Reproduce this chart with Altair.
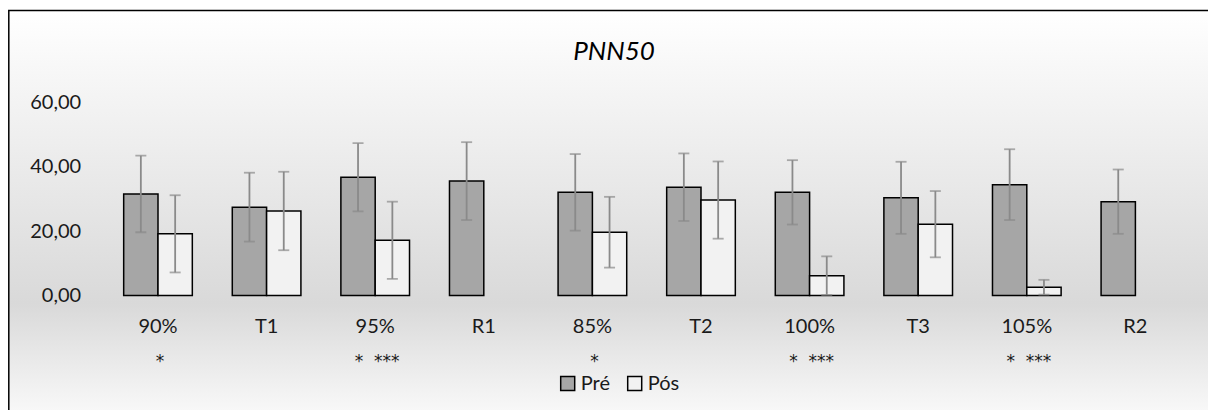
import altair as alt
import pandas as pd

# ---- data ----
categories = ["90%", "T1", "95%", "R1", "85%", "T2", "100%", "T3", "105%", "R2"]
stars = ["*", "", "*\u00a0\u00a0***", "", "*", "", "*\u00a0\u00a0***", "", "*\u00a0\u00a0***", ""]
series = ["Pré", "Pós"]
pre_mean = [31.6, 27.5, 36.8, 35.6, 32.1, 33.7, 32.1, 30.4, 34.5, 29.2]
pre_sd = [11.9, 10.7, 10.6, 12.1, 11.9, 10.5, 10.0, 11.2, 11.0, 10.0]
pos_mean = [19.2, 26.3, 17.2, None, 19.7, 29.7, 6.2, 22.2, 2.6, None]
pos_sd = [12.0, 12.2, 12.0, None, 11.0, 12.0, 6.0, 10.3, 2.3, None]
y_ticks = [0, 20, 40, 60]
chart_title = "PNN50"

rows = []
for i, c in enumerate(categories):
    rows.append({"cat": c, "serie": "Pré", "mean": pre_mean[i], "sd": pre_sd[i]})
    if pos_mean[i] is not None:
        rows.append({"cat": c, "serie": "Pós", "mean": pos_mean[i], "sd": pos_sd[i]})
df = pd.DataFrame(rows)
df["lo"] = (df["mean"] - df["sd"]).clip(lower=0)
df["hi"] = df["mean"] + df["sd"]
star_df = pd.DataFrame({"cat": categories, "star": stars})

FONT = "Lato"
TXT = "#1a1a1a"
W, H = 1086, 193
PL, PT = 95.7, 94.6
TOTAL_W, TOTAL_H = 1200, 402

x_sorted = alt.X("cat:N", sort=categories)
x_enc = alt.X(
    "cat:N",
    sort=categories,
    scale=alt.Scale(paddingInner=0.368, paddingOuter=0.184),
    axis=alt.Axis(
        title=None, labelAngle=0, domain=False, ticks=False, tickSize=0, zindex=2,
        labelFont=FONT, labelFontSize=20, labelColor=TXT, labelPadding=21,
    ),
)
xoff = alt.XOffset("serie:N", sort=series, scale=alt.Scale(paddingInner=0, paddingOuter=0))
y_scale = alt.Scale(domain=[0, 60], nice=False)

bg = alt.Chart(alt.Data(values=[{}])).mark_rect(
    fill=alt.Gradient(
        gradient="linear", x1=0, x2=0, y1=0, y2=1,
        stops=[
            alt.GradientStop(color="#ffffff", offset=0),
            alt.GradientStop(color="#d9d9d9", offset=0.69),
            alt.GradientStop(color="#ffffff", offset=1),
        ],
    ),
    stroke="#000000", strokeWidth=1.5,
).encode(
    x=alt.value(-PL + 0.8), x2=alt.value(W + 60),
    y=alt.value(-PT + 2.6), y2=alt.value(H + 140),
)

bars = alt.Chart(df).mark_bar(stroke="#000000", strokeWidth=1.5).encode(
    x=x_enc,
    xOffset=xoff,
    y=alt.Y(
        "mean:Q", scale=y_scale,
        axis=alt.Axis(
            title=None, values=y_ticks, domain=False, ticks=False, grid=False, zindex=2,
            labelFont=FONT, labelFontSize=20, labelColor=TXT, labelPadding=23,
            labelExpr="replace(format(datum.value, '.2f'), '.', ',')",
        ),
    ),
    color=alt.Color(
        "serie:N", sort=series,
        scale=alt.Scale(domain=series, range=["#a6a6a6", "#f2f2f2"]),
        legend=alt.Legend(
            title=None, orient="none", direction="horizontal",
            legendX=454, legendY=271, zindex=2,
            symbolType="square", symbolSize=196, symbolStrokeColor="#000000",
            symbolStrokeWidth=1.5, symbolOpacity=1,
            labelFont=FONT, labelFontSize=20, labelColor=TXT,
            labelOffset=3, columnPadding=14,
        ),
    ),
)

err = alt.Chart(df).mark_rule(color="#8a8a8a", strokeWidth=1.8).encode(
    x=x_sorted, xOffset=xoff,
    y=alt.Y("lo:Q", scale=y_scale), y2="hi:Q",
)
cap_hi = alt.Chart(df).mark_tick(color="#8a8a8a", thickness=1.8, size=11).encode(
    x=x_sorted, xOffset=xoff, y=alt.Y("hi:Q", scale=y_scale),
)
cap_lo = alt.Chart(df).mark_tick(color="#8a8a8a", thickness=1.8, size=11).encode(
    x=x_sorted, xOffset=xoff, y=alt.Y("lo:Q", scale=y_scale),
)

star_text = alt.Chart(star_df).mark_text(
    font="DejaVu Sans", fontSize=17, color=TXT, baseline="alphabetic", align="center",
    dx=2,
).encode(
    x=x_sorted, y=alt.value(264), text="star:N",
)

title_text = alt.Chart(alt.Data(values=[{"t": chart_title}])).mark_text(
    font=FONT, fontSize=26, fontStyle="italic", color="#000000",
    baseline="alphabetic", align="center",
).encode(
    x=alt.value(510.3), y=alt.value(-42.6), text="t:N",
)

chart = alt.layer(bg, bars, err, cap_hi, cap_lo, star_text, title_text).properties(
    width=W, height=H,
    autosize=alt.AutoSizeParams(type="none"),
    padding={"left": PL, "top": PT, "right": TOTAL_W - PL - W, "bottom": TOTAL_H - PT - H},
).configure_view(stroke=None).configure(background="#ffffff")

chart.save("out.html", embed_options={"renderer": "svg", "actions": False})
